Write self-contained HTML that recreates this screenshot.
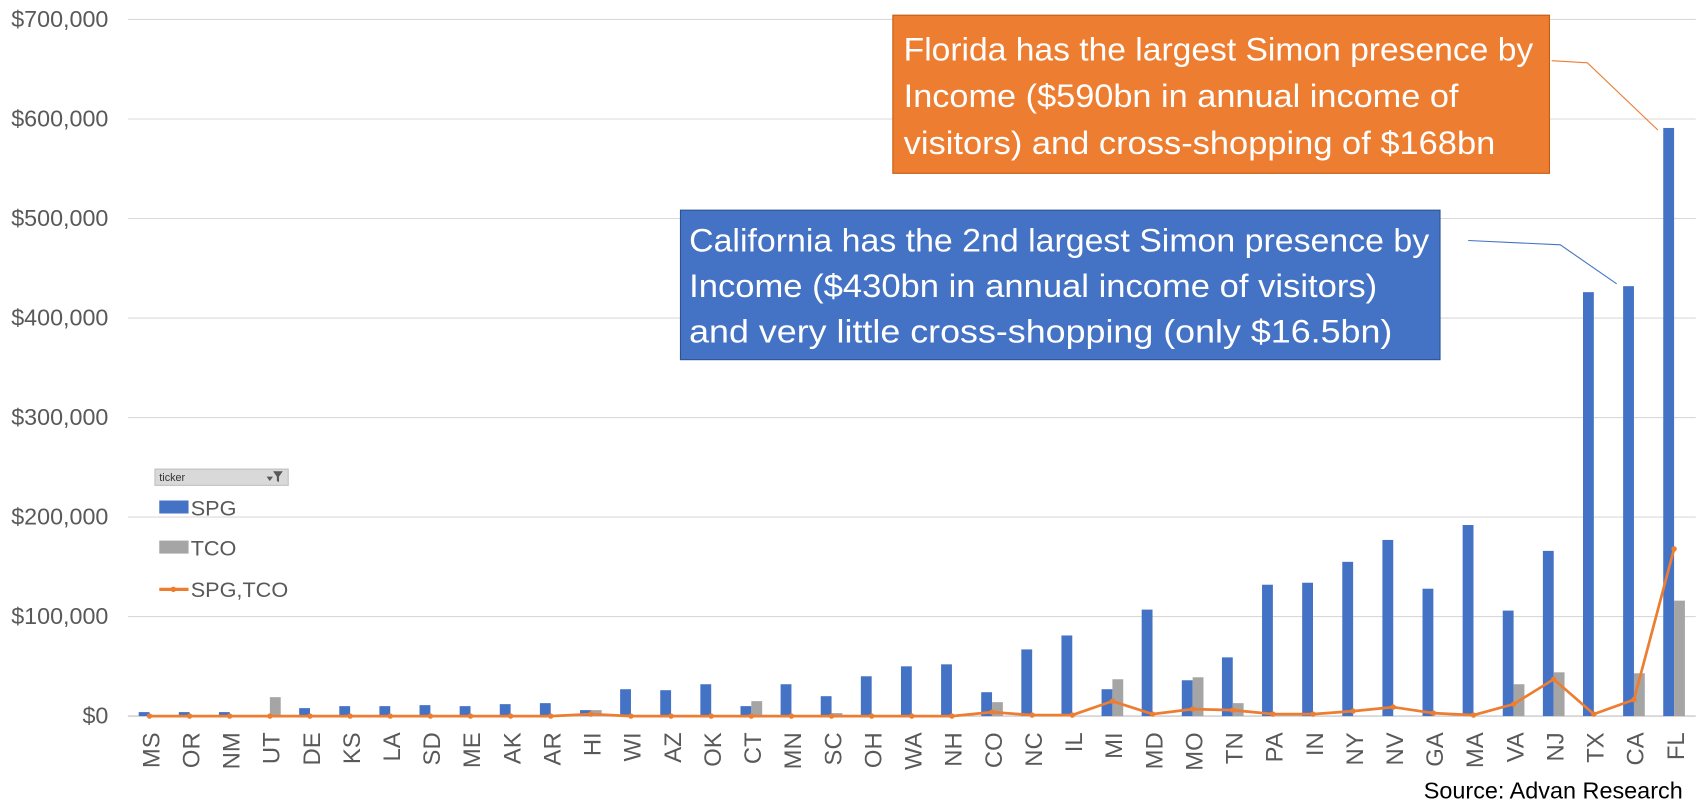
<!DOCTYPE html>
<html><head><meta charset="utf-8"><style>
html,body{margin:0;padding:0;background:#fff;overflow:hidden;width:1699px;height:806px;}
svg{display:block;}
svg text{font-family:"Liberation Sans",sans-serif;}
</style></head><body>
<svg width="1699" height="806" viewBox="0 0 1568 744" preserveAspectRatio="none" xmlns="http://www.w3.org/2000/svg">
<g id="grid"></g>
<g id="ylab"></g>
<g id="bars"></g>
<g id="line"></g>
<g id="xlab"></g>

<g>
<rect x="143" y="433" width="123" height="15" fill="#d9d9d9" stroke="#bfbfbf"/>
<text x="147" y="444" font-size="10" fill="#333">ticker</text>
<path d="M246 440 l6 0 l-3 4 z M252 435 h9 l-3.5 5 v5 l-2 -1 v-4 z" fill="#595959"/>
<rect x="147" y="462" width="27" height="12" fill="#4472C4"/>
<text x="176" y="476" font-size="20" fill="#595959">SPG</text>
<rect x="147" y="499" width="27" height="12" fill="#A5A5A5"/>
<text x="176" y="513" font-size="20" fill="#595959">TCO</text>
<line x1="147" y1="544" x2="174" y2="544" stroke="#ED7D31" stroke-width="3"/>
<circle cx="160" cy="544" r="2.5" fill="#ED7D31"/>
<text x="176" y="551" font-size="20" fill="#595959">SPG,TCO</text>
</g>

<polyline points="1432,56 1465,58 1530,120" fill="none" stroke="#ED7D31" stroke-width="1"/>
<polyline points="1355,222 1440,226 1492,262" fill="none" stroke="#4472C4" stroke-width="1"/>
<g>
<rect x="824" y="14" width="606" height="146" fill="#ED7D31" stroke="#c55a11" stroke-width="1"/>
<text x="834" y="56" font-size="30" fill="#fff" textLength="581" lengthAdjust="spacingAndGlyphs">Florida has the largest Simon presence by</text>
<text x="834" y="99" font-size="30" fill="#fff" textLength="512" lengthAdjust="spacingAndGlyphs">Income ($590bn in annual income of</text>
<text x="834" y="142" font-size="30" fill="#fff" textLength="546" lengthAdjust="spacingAndGlyphs">visitors) and cross-shopping of $168bn</text>
</g>
<g>
<rect x="628" y="194" width="701" height="138" fill="#4472C4" stroke="#2f528f" stroke-width="1"/>
<text x="636" y="232" font-size="30" fill="#fff" textLength="683" lengthAdjust="spacingAndGlyphs">California has the 2nd largest Simon presence by</text>
<text x="636" y="274" font-size="30" fill="#fff" textLength="635" lengthAdjust="spacingAndGlyphs">Income ($430bn in annual income of visitors)</text>
<text x="636" y="316" font-size="30" fill="#fff" textLength="649" lengthAdjust="spacingAndGlyphs">and very little cross-shopping (only $16.5bn)</text>
</g>
<text x="1553" y="737" font-size="21" fill="#000" text-anchor="end" textLength="239" lengthAdjust="spacingAndGlyphs">Source: Advan Research</text>
</svg>
<script>
const categories=["MS","OR","NM","UT","DE","KS","LA","SD","ME","AK","AR","HI","WI","AZ","OK","CT","MN","SC","OH","WA","NH","CO","NC","IL","MI","MD","MO","TN","PA","IN","NY","NV","GA","MA","VA","NJ","TX","CA","FL"];
const spgValues=[4,4,4,1,8,10,10,11,10,12,13,6,27,26,32,10,32,20,40,50,52,24,67,81,27,107,36,59,132,134,155,177,128,192,106,166,426,432,591];
const tcoValues=[0,0,0,19,0,0,0,0,0,0,0,6,0,0,0,15,0,3,0,0,0,14,0,0,37,0,39,13,0,0,0,0,0,0,32,44,0,43,116];
const lineValues=[0,0,0,0,0,0,0,0,0,0,0,2,0,0,0,0,0,0,0,0,0,4,1,1,15,2,7,6,2,2,5,9,3,1,12,37,2,16.5,168];
const yTicks=[0,100,200,300,400,500,600,700];
const yTickLabels=["$0","$100,000","$200,000","$300,000","$400,000","$500,000","$600,000","$700,000"];
const NS="http://www.w3.org/2000/svg";
const y0=661,pxPerK=0.9186,x0=140,step=(1547-140)/38;
const yS=v=>y0-v*pxPerK, xS=i=>x0+step*i;
function mk(tag,attrs,parent){const e=document.createElementNS(NS,tag);for(const k in attrs)e.setAttribute(k,attrs[k]);parent.appendChild(e);return e;}
const grid=document.getElementById('grid'),ylab=document.getElementById('ylab'),bars=document.getElementById('bars'),line=document.getElementById('line'),xlab=document.getElementById('xlab');
yTicks.forEach((t,i)=>{
 const l=mk('line',{x1:118,x2:1565,y1:yS(t),y2:yS(t),stroke:i===0?'#bfbfbf':'#d9d9d9','stroke-width':1},grid);
 
 
 const tx=mk('text',{x:100,y:yS(t)+7,'font-size':21.5,fill:'#595959','text-anchor':'end'},ylab);
 tx.textContent=yTickLabels[i];
 
 
});
categories.forEach((c,i)=>{
 const cx=xS(i)-2;
 const b=mk('rect',{x:cx-10,y:yS(spgValues[i]),width:10,height:spgValues[i]*pxPerK,fill:'#4472C4'},bars);
 
 
 if(tcoValues[i]>0){
  const g=mk('rect',{x:cx,y:yS(tcoValues[i]),width:10,height:tcoValues[i]*pxPerK,fill:'#A5A5A5'},bars);
  
  
 }
 const t=mk('text',{x:0,y:0,'font-size':22,fill:'#595959','text-anchor':'end',transform:`translate(${xS(i)+7},676) rotate(-90)`},xlab);
 t.textContent=c;
 
 
});
const pts=lineValues.map((v,i)=>(xS(i)-2)+','+yS(v)).join(' ');
const pl=mk('polyline',{points:pts,fill:'none',stroke:'#ED7D31','stroke-width':2.5},line);


lineValues.forEach((v,i)=>{
 const d=mk('circle',{cx:xS(i)-2,cy:yS(v),r:2.5,fill:'#ED7D31'},line);
 
 
});
</script>
</body></html>
